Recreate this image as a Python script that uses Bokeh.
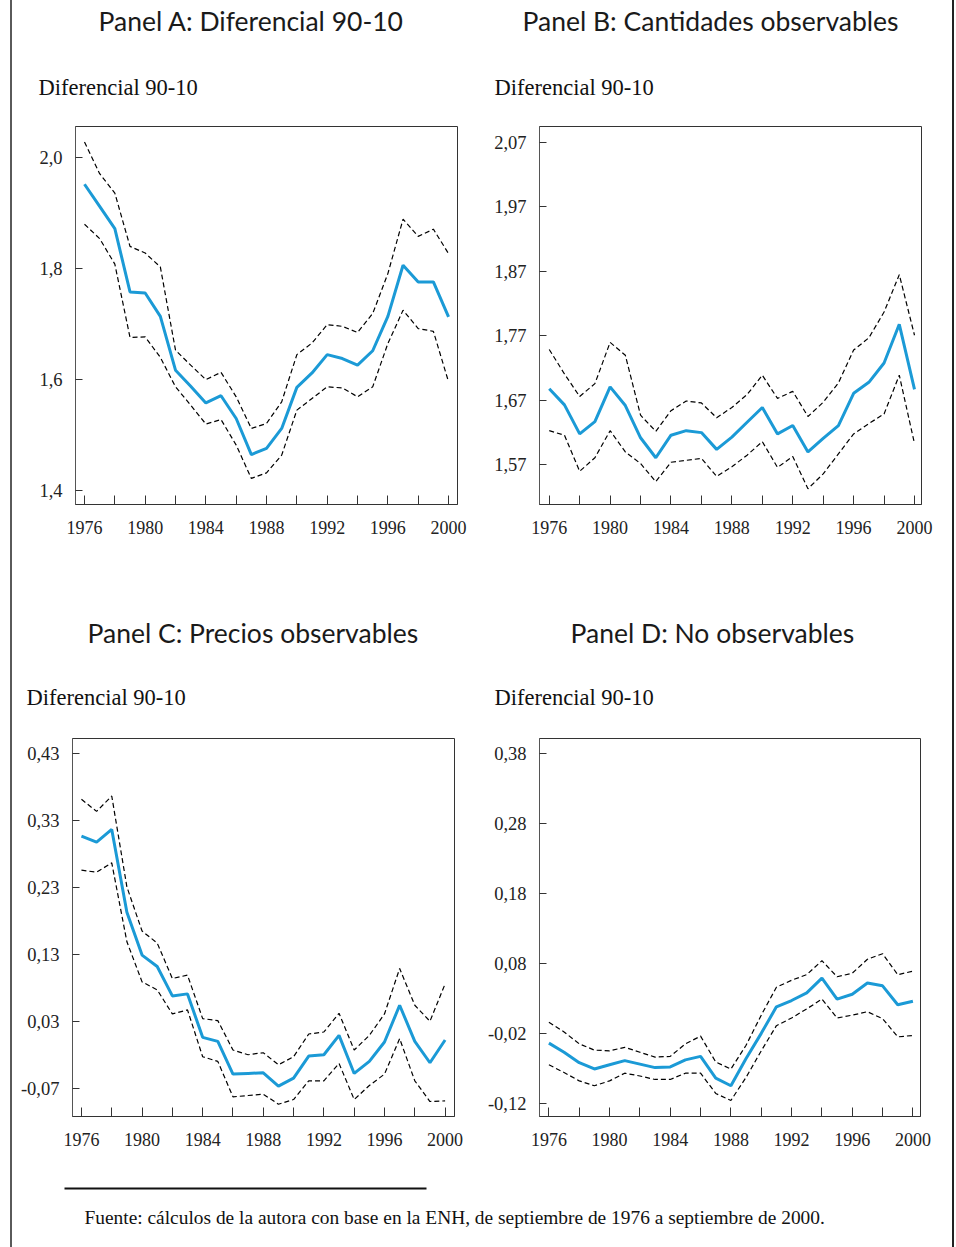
from bokeh.plotting import figure
from bokeh.models import (Range1d, FixedTicker, CustomJSTickFormatter, Label,
                          BoxAnnotation, Spacer, ColumnDataSource)
from bokeh.core.properties import value
from bokeh.layouts import row, column
from bokeh.embed import file_html
from bokeh.resources import INLINE

years = list(range(1976, 2001))

# Panel A: Diferencial 90-10
a_est = [1.952, 1.912, 1.872, 1.758, 1.756, 1.714, 1.617, 1.588, 1.558, 1.571, 1.530, 1.465, 1.476,
         1.512, 1.586, 1.612, 1.645, 1.638, 1.626, 1.652, 1.714, 1.806, 1.776, 1.776, 1.713]
a_hi = [2.028, 1.971, 1.936, 1.840, 1.828, 1.803, 1.653, 1.626, 1.600, 1.613, 1.569, 1.512, 1.521,
        1.560, 1.645, 1.666, 1.699, 1.696, 1.685, 1.719, 1.791, 1.889, 1.858, 1.871, 1.827]
a_lo = [1.880, 1.854, 1.808, 1.676, 1.677, 1.640, 1.587, 1.554, 1.520, 1.528, 1.482, 1.422, 1.432,
        1.464, 1.545, 1.566, 1.587, 1.585, 1.569, 1.587, 1.665, 1.725, 1.692, 1.687, 1.596]
a_yticks = [1.4, 1.6, 1.8, 2.0]

# Panel B: Cantidades observables
b_est = [1.688, 1.663, 1.618, 1.637, 1.691, 1.662, 1.612, 1.581, 1.616, 1.623, 1.620, 1.594, 1.613,
         1.636, 1.659, 1.618, 1.631, 1.590, 1.611, 1.631, 1.681, 1.698, 1.728, 1.788, 1.687]
b_hi = [1.749, 1.711, 1.676, 1.696, 1.760, 1.740, 1.647, 1.622, 1.654, 1.669, 1.666, 1.643, 1.659,
        1.679, 1.709, 1.673, 1.684, 1.645, 1.667, 1.697, 1.748, 1.767, 1.807, 1.865, 1.771]
b_lo = [1.623, 1.616, 1.560, 1.581, 1.623, 1.590, 1.572, 1.544, 1.574, 1.577, 1.580, 1.552, 1.567,
        1.585, 1.606, 1.566, 1.583, 1.533, 1.556, 1.587, 1.618, 1.634, 1.649, 1.709, 1.603]
b_yticks = [1.57, 1.67, 1.77, 1.87, 1.97, 2.07]

# Panel C: Precios observables
c_est = [0.307, 0.298, 0.317, 0.193, 0.129, 0.112, 0.068, 0.071, 0.006, 0.000, -0.049, -0.048, -0.047,
         -0.067, -0.055, -0.022, -0.020, 0.009, -0.048, -0.030, -0.001, 0.054, 0.000, -0.032, 0.002]
c_hi = [0.362, 0.344, 0.367, 0.231, 0.165, 0.147, 0.094, 0.099, 0.034, 0.031, -0.013, -0.020, -0.017,
        -0.035, -0.023, 0.011, 0.014, 0.042, -0.013, 0.009, 0.041, 0.109, 0.054, 0.030, 0.086]
c_lo = [0.256, 0.253, 0.267, 0.149, 0.089, 0.077, 0.041, 0.047, -0.023, -0.030, -0.083, -0.081, -0.079,
        -0.094, -0.087, -0.059, -0.059, -0.033, -0.087, -0.066, -0.049, 0.004, -0.059, -0.090, -0.089]
c_yticks = [-0.07, 0.03, 0.13, 0.23, 0.33, 0.43]

# Panel D: No observables
d_est = [-0.034, -0.047, -0.062, -0.071, -0.065, -0.059, -0.064, -0.069, -0.068, -0.058, -0.053, -0.084, -0.095,
         -0.056, -0.020, 0.018, 0.027, 0.038, 0.059, 0.029, 0.036, 0.052, 0.048, 0.021, 0.026]
d_hi = [-0.004, -0.018, -0.035, -0.044, -0.045, -0.040, -0.047, -0.054, -0.053, -0.035, -0.024, -0.061, -0.071,
        -0.037, 0.006, 0.046, 0.056, 0.064, 0.084, 0.061, 0.066, 0.086, 0.094, 0.064, 0.069]
d_lo = [-0.065, -0.076, -0.088, -0.095, -0.088, -0.077, -0.081, -0.086, -0.086, -0.077, -0.077, -0.106, -0.116,
        -0.083, -0.045, -0.009, 0.002, 0.015, 0.029, 0.002, 0.006, 0.011, 0.001, -0.025, -0.023]
d_yticks = [-0.12, -0.02, 0.08, 0.18, 0.28, 0.38]

panel_titles = ["Panel A: Diferencial 90-10", "Panel B: Cantidades observables",
                "Panel C: Precios observables", "Panel D: No observables"]
y_title = "Diferencial 90-10"
footer = "Fuente: cálculos de la autora con base en la ENH, de septiembre de 1976 a septiembre de 2000."

SERIF = "Liberation Serif"
SANS = "Lato"
BLUE = "#1b9ad6"
FH = 378
W = 940


def make_panel(est, lo, hi, yticks, xr, yr, fw, bl, br, bb, ydec):
    p = figure(frame_width=fw, frame_height=FH, min_border_left=bl, min_border_right=br,
               min_border_top=26, min_border_bottom=bb, x_range=Range1d(*xr), y_range=Range1d(*yr),
               output_backend="svg", toolbar_location=None, tools="", title=None)
    p.grid.visible = False
    p.outline_line_color = "#333333"
    p.background_fill_color = "white"
    p.border_fill_color = "white"
    src = ColumnDataSource(dict(year=years, est=est, lo=lo, hi=hi))
    p.line("year", "hi", source=src, line_color="black", line_width=1.2, line_dash="5 3")
    p.line("year", "lo", source=src, line_color="black", line_width=1.2, line_dash="5 3")
    p.line("year", "est", source=src, line_color=BLUE, line_width=3)

    xa = p.xaxis[0]
    xa.ticker = FixedTicker(ticks=years[::2])
    xa.formatter = CustomJSTickFormatter(code="return ((tick - 1976) % 4 == 0) ? String(tick) : '';")
    xa.major_tick_in = 9
    xa.major_tick_out = 0
    xa.minor_tick_line_color = None
    xa.major_label_standoff = 16
    xa.major_label_text_font = SERIF
    xa.major_label_text_font_size = "18px"
    xa.major_label_text_color = "#222222"
    xa.axis_line_color = "#333333"
    xa.major_tick_line_color = "#333333"

    ya = p.yaxis[0]
    ya.ticker = FixedTicker(ticks=yticks)
    ya.formatter = CustomJSTickFormatter(code="return tick.toFixed(%d).replace('.', ',');" % ydec)
    ya.major_tick_in = 7
    ya.major_tick_out = 0
    ya.minor_tick_line_color = None
    ya.major_label_standoff = 13
    ya.major_label_text_font = SERIF
    ya.major_label_text_font_size = "18.5px"
    ya.major_label_text_color = "#222222"
    ya.axis_line_color = "#555555"
    ya.major_tick_line_color = "#333333"
    return p


def make_header(h, titles, title_x, title_from_top, sub_x, sub_from_top):
    p = figure(frame_width=W, frame_height=h, min_border=0, x_range=Range1d(0, W),
               y_range=Range1d(0, h), x_axis_type=None, y_axis_type=None, output_backend="svg",
               toolbar_location=None, tools="", title=None)
    p.outline_line_color = None
    p.grid.visible = False
    p.text(x=title_x, y=[h - title_from_top] * len(titles), text=titles,
           text_font=value(SANS), text_font_size=value("26.5px"), text_align="left",
           text_baseline="middle", text_color="#1a1a1a")
    p.text(x=sub_x, y=[h - sub_from_top] * len(sub_x), text=[y_title] * len(sub_x),
           text_font=value(SERIF), text_font_size=value("22.5px"), text_align="left",
           text_baseline="middle", text_color="#111111")
    return p


h1 = make_header(100, panel_titles[:2], [86, 510], 20, [26, 482], 87)
pA = make_panel(a_est, a_lo, a_hi, a_yticks, (1975.407, 2000.59), (1.375, 2.056), 382, 63, 25, 96, 1)
pB = make_panel(b_est, b_lo, b_hi, b_yticks, (1975.36, 2000.46), (1.5085, 2.0948), 382, 57, 31, 96, 2)
h2 = make_header(112, panel_titles[2:], [75, 558], 32, [14, 482], 97)
pC = make_panel(c_est, c_lo, c_hi, c_yticks, (1975.41, 2000.62), (-0.1124, 0.453), 382, 60, 28, 44, 2)
pD = make_panel(d_est, d_lo, d_hi, d_yticks, (1975.38, 2000.50), (-0.139, 0.402), 381, 57, 32, 44, 2)

pF = figure(frame_width=W, frame_height=87, min_border=0, x_range=Range1d(0, W),
            y_range=Range1d(0, 87), x_axis_type=None, y_axis_type=None, output_backend="svg",
            toolbar_location=None, tools="", title=None)
pF.outline_line_color = None
pF.grid.visible = False
pF.add_layout(BoxAnnotation(left=52, right=414, bottom=58, top=60, fill_color="#111111",
                            fill_alpha=1, line_color=None))
pF.add_layout(Label(x=72, y=30, text=footer, text_align="left", text_baseline="middle",
                    text_font=SERIF, text_font_size="19.4px", text_color="#111111"))

H = 1247
content = column(h1, row(pA, pB), h2, row(pC, pD), pF)
left_pad = Spacer(width=10, height=H)
left_border = Spacer(width=2, height=H, styles={"background-color": "#5a5a5a"})
right_border = Spacer(width=2, height=H, styles={"background-color": "#222222"})
layout = row(left_pad, left_border, content, right_border)

open("out.html", "w").write(file_html(layout, INLINE))
